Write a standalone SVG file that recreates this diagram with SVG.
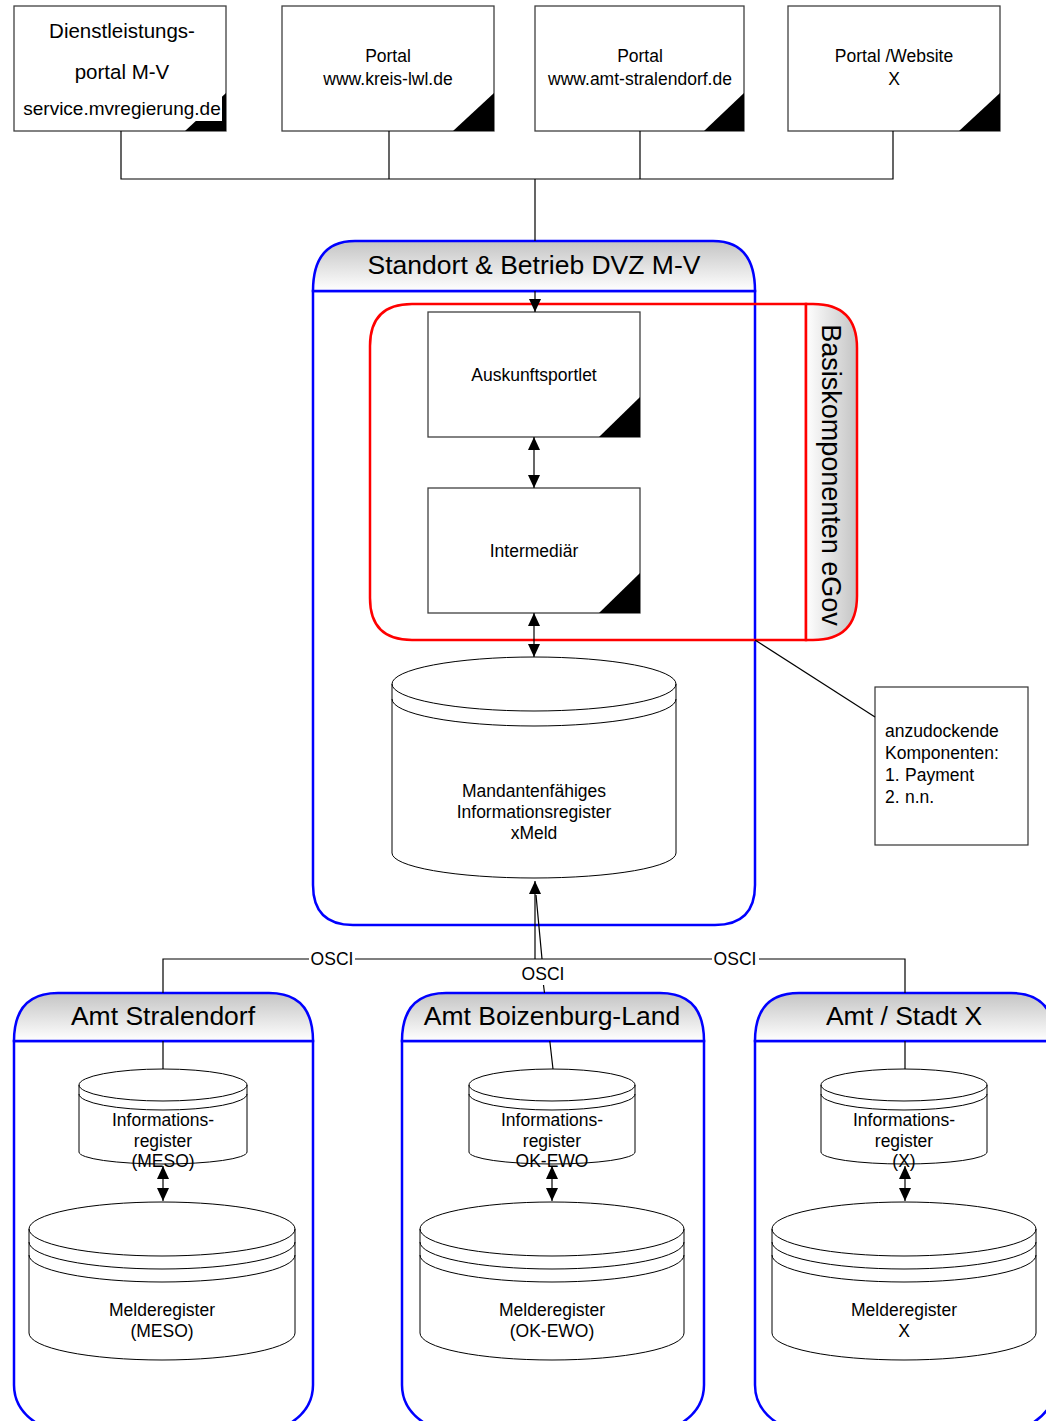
<svg xmlns="http://www.w3.org/2000/svg" width="1046" height="1421" viewBox="0 0 1046 1421">
<defs>
<linearGradient id="gv" x1="0" y1="0" x2="0" y2="1"><stop offset="0" stop-color="#c4c4c4"/><stop offset="1" stop-color="#ffffff"/></linearGradient>
<linearGradient id="gh" x1="0" y1="0" x2="1" y2="0"><stop offset="0" stop-color="#ffffff"/><stop offset="1" stop-color="#c4c4c4"/></linearGradient>
<marker id="ah" viewBox="0 0 13 12" refX="13" refY="6" markerWidth="13" markerHeight="12" markerUnits="userSpaceOnUse" orient="auto-start-reverse"><path d="M0,0 L13,6 L0,12 Z" fill="#000"/></marker>
<style>
text{font-family:"Liberation Sans",Arial,sans-serif;fill:#000}
.m{text-anchor:middle}
.s17{font-size:17.5px}
.s19{font-size:19px}
.s20{font-size:20.5px}
.s26{font-size:26.5px}
.box{fill:#fff;stroke:#404040;stroke-width:1.3}
.tri{fill:#000}
.cyl{fill:#fff;stroke:#000;stroke-width:1}
.cl{fill:none;stroke:#000;stroke-width:1}
.body{fill:#fff;stroke:#0000ff;stroke-width:2.5}
.hdr{fill:url(#gv);stroke:#0000ff;stroke-width:2.5}
.rbody{fill:none;stroke:#ff0000;stroke-width:2.5}
.rhdr{fill:url(#gh);stroke:#ff0000;stroke-width:2.5}
.conn{fill:none;stroke:#000;stroke-width:1.2}
.arr{fill:none;stroke:#000;stroke-width:1.2;marker-end:url(#ah)}
.darr{fill:none;stroke:#000;stroke-width:1.2;marker-start:url(#ah);marker-end:url(#ah)}
.note{fill:#fff;stroke:#333;stroke-width:1.2}
</style>
</defs>

<!-- Portals -->
<g id="portal-mv">
<rect class="box" x="14" y="6" width="212" height="125"/>
<path class="tri" d="M185,131 L226,131 L226,93 Z"/>
<rect x="22" y="96" width="200" height="25" fill="#fff"/>
<text class="m s20" x="122" y="38">Dienstleistungs-</text>
<text class="m s20" x="122" y="79">portal M-V</text>
<text class="m s19" x="122" y="115">service.mvregierung.de</text>
</g>
<g id="portal-lwl">
<rect class="box" x="282" y="6" width="212" height="125"/>
<path class="tri" d="M453,131 L494,131 L494,93 Z"/>
<text class="m s17" x="388" y="62">Portal</text>
<text class="m s17" x="388" y="85">www.kreis-lwl.de</text>
</g>
<g id="portal-stralendorf">
<rect class="box" x="535" y="6" width="209" height="125"/>
<path class="tri" d="M704,131 L744,131 L744,93 Z"/>
<text class="m s17" x="640" y="62">Portal</text>
<text class="m s17" x="640" y="85">www.amt-stralendorf.de</text>
</g>
<g id="portal-x">
<rect class="box" x="788" y="6" width="212" height="125"/>
<path class="tri" d="M959,131 L1000,131 L1000,93 Z"/>
<text class="m s17" x="894" y="62">Portal /Website</text>
<text class="m s17" x="894" y="85">X</text>
</g>

<!-- Main container -->
<g id="dvz">
<path class="body" d="M313,291 V885 Q313,925 353,925 H715 Q755,925 755,885 V291 Z"/>
<path class="hdr" d="M313,291 Q313,241 355,241 H713 Q755,241 755,291 Z"/>
<text class="m s26" x="534" y="274">Standort &amp; Betrieb DVZ M-V</text>
</g>

<g id="basis">
<path class="rbody" d="M412,304 H806 V640 H412 Q370,640 370,598 V346 Q370,304 412,304 Z"/>
<path class="rhdr" d="M806,304 H813 Q857,304 857,348 V596 Q857,640 813,640 H806 Z"/>
<text class="m s26" transform="translate(822,475) rotate(90)" x="0" y="0" style="font-size:27px">Basiskomponenten eGov</text>
</g>

<g id="auskunft">
<rect class="box" x="428" y="312" width="212" height="125"/>
<path class="tri" d="M599,437 L640,437 L640,397 Z"/>
<text class="m s17" x="534" y="381">Auskunftsportlet</text>
</g>
<g id="intermediaer">
<rect class="box" x="428" y="488" width="212" height="125"/>
<path class="tri" d="M599,613 L640,613 L640,573 Z"/>
<text class="m s17" x="534" y="557">Intermediär</text>
</g>

<g id="xmeld">
<path class="cyl" d="M392,684 A142,27 0 0 1 676,684 V853 A142,25 0 0 1 392,853 Z"/>
<path class="cl" d="M392,684 A142,27 0 0 0 676,684 M392,699 A142,27 0 0 0 676,699"/>
<text class="m s17" x="534" y="797">Mandantenfähiges</text>
<text class="m s17" x="534" y="818">Informationsregister</text>
<text class="m s17" x="534" y="839">xMeld</text>
</g>

<g id="note">
<rect class="note" x="875" y="687" width="153" height="158"/>
<text class="s17" x="885" y="737">anzudockende</text>
<text class="s17" x="885" y="759">Komponenten:</text>
<text class="s17" x="885" y="781">1. <tspan x="905">Payment</tspan></text>
<text class="s17" x="885" y="803">2. <tspan x="905">n.n.</tspan></text>
</g>

<!-- Bottom containers -->
<g id="amt-stralendorf">
<path class="body" d="M14,1041 V1385 C14,1405 25,1421 55,1432 H272 C302,1421 313,1405 313,1385 V1041 Z"/>
<path class="hdr" d="M14,1041 Q14,993 58,993 H269 Q313,993 313,1041 Z"/>
<text class="m s26" x="163" y="1025">Amt Stralendorf</text>
</g>
<g id="amt-boizenburg">
<path class="body" d="M402,1041 V1385 C402,1405 413,1421 443,1432 H663 C693,1421 704,1405 704,1385 V1041 Z"/>
<path class="hdr" d="M402,1041 Q402,993 446,993 H660 Q704,993 704,1041 Z"/>
<text class="m s26" x="552" y="1025">Amt Boizenburg-Land</text>
</g>
<g id="amt-x">
<path class="body" d="M755,1041 V1385 C755,1405 766,1421 796,1432 H1014 C1044,1421 1055,1405 1055,1385 V1041 Z"/>
<path class="hdr" d="M755,1041 Q755,993 799,993 H1011 Q1055,993 1055,1041 Z"/>
<text class="m s26" x="904" y="1025">Amt / Stadt X</text>
</g>

<g id="info-meso">
<path class="cyl" d="M79,1085 A84,16 0 0 1 247,1085 V1152 A84,12 0 0 1 79,1152 Z"/>
<path class="cl" d="M79,1085 A84,16 0 0 0 247,1085 M79,1094 A84,16 0 0 0 247,1094"/>
<text class="m s17" x="163" y="1126">Informations-</text>
<text class="m s17" x="163" y="1147">register</text>
<text class="m s17" x="163" y="1167">(MESO)</text>
</g>
<g id="info-okewo">
<path class="cyl" d="M469,1085 A83,16 0 0 1 635,1085 V1152 A83,12 0 0 1 469,1152 Z"/>
<path class="cl" d="M469,1085 A83,16 0 0 0 635,1085 M469,1094 A83,16 0 0 0 635,1094"/>
<text class="m s17" x="552" y="1126">Informations-</text>
<text class="m s17" x="552" y="1147">register</text>
<text class="m s17" x="552" y="1167">OK-EWO</text>
</g>
<g id="info-x">
<path class="cyl" d="M821,1085 A83,16 0 0 1 987,1085 V1152 A83,12 0 0 1 821,1152 Z"/>
<path class="cl" d="M821,1085 A83,16 0 0 0 987,1085 M821,1094 A83,16 0 0 0 987,1094"/>
<text class="m s17" x="904" y="1126">Informations-</text>
<text class="m s17" x="904" y="1147">register</text>
<text class="m s17" x="904" y="1167">(X)</text>
</g>

<g id="melde-meso">
<path class="cyl" d="M29,1229 A133,27 0 0 1 295,1229 V1333 A133,27 0 0 1 29,1333 Z"/>
<path class="cl" d="M29,1229 A133,27 0 0 0 295,1229 M29,1242 A133,27 0 0 0 295,1242 M29,1255 A133,27 0 0 0 295,1255"/>
<text class="m s17" x="162" y="1316">Melderegister</text>
<text class="m s17" x="162" y="1337">(MESO)</text>
</g>
<g id="melde-okewo">
<path class="cyl" d="M420,1229 A132,27 0 0 1 684,1229 V1333 A132,27 0 0 1 420,1333 Z"/>
<path class="cl" d="M420,1229 A132,27 0 0 0 684,1229 M420,1242 A132,27 0 0 0 684,1242 M420,1255 A132,27 0 0 0 684,1255"/>
<text class="m s17" x="552" y="1316">Melderegister</text>
<text class="m s17" x="552" y="1337">(OK-EWO)</text>
</g>
<g id="melde-x">
<path class="cyl" d="M772,1229 A132,27 0 0 1 1036,1229 V1333 A132,27 0 0 1 772,1333 Z"/>
<path class="cl" d="M772,1229 A132,27 0 0 0 1036,1229 M772,1242 A132,27 0 0 0 1036,1242 M772,1255 A132,27 0 0 0 1036,1255"/>
<text class="m s17" x="904" y="1316">Melderegister</text>
<text class="m s17" x="904" y="1337">X</text>
</g>

<!-- Connectors -->
<g id="connectors">
<path class="conn" d="M121,131 V179 H893 V131 M389,131 V179 M640,131 V179"/>
<path class="arr" d="M535,179 V241 M535,291 V312"/>
<path class="darr" d="M534,437 V488"/>
<path class="darr" d="M534,613 V657"/>
<path class="conn" d="M755,640 L875,717"/>
<path class="conn" d="M163,1069 V1041 M163,993 V959 H905 V993 M905,1041 V1069"/>
<path class="arr" d="M535,959 V881"/>
<path class="conn" d="M542,959 L536,895"/>
<path class="conn" d="M543.5,985 L544.5,993 M549.8,1041 L553,1069"/>
<rect x="309" y="950" width="46" height="18" fill="#fff"/>
<text class="m s17" x="332" y="965">OSCI</text>
<rect x="712" y="950" width="47" height="18" fill="#fff"/>
<text class="m s17" x="735" y="965">OSCI</text>
<text class="m s17" x="543" y="980">OSCI</text>
<path class="darr" d="M163,1166 V1201"/>
<path class="darr" d="M552,1166 V1201"/>
<path class="darr" d="M905,1166 V1201"/>
</g>
</svg>
